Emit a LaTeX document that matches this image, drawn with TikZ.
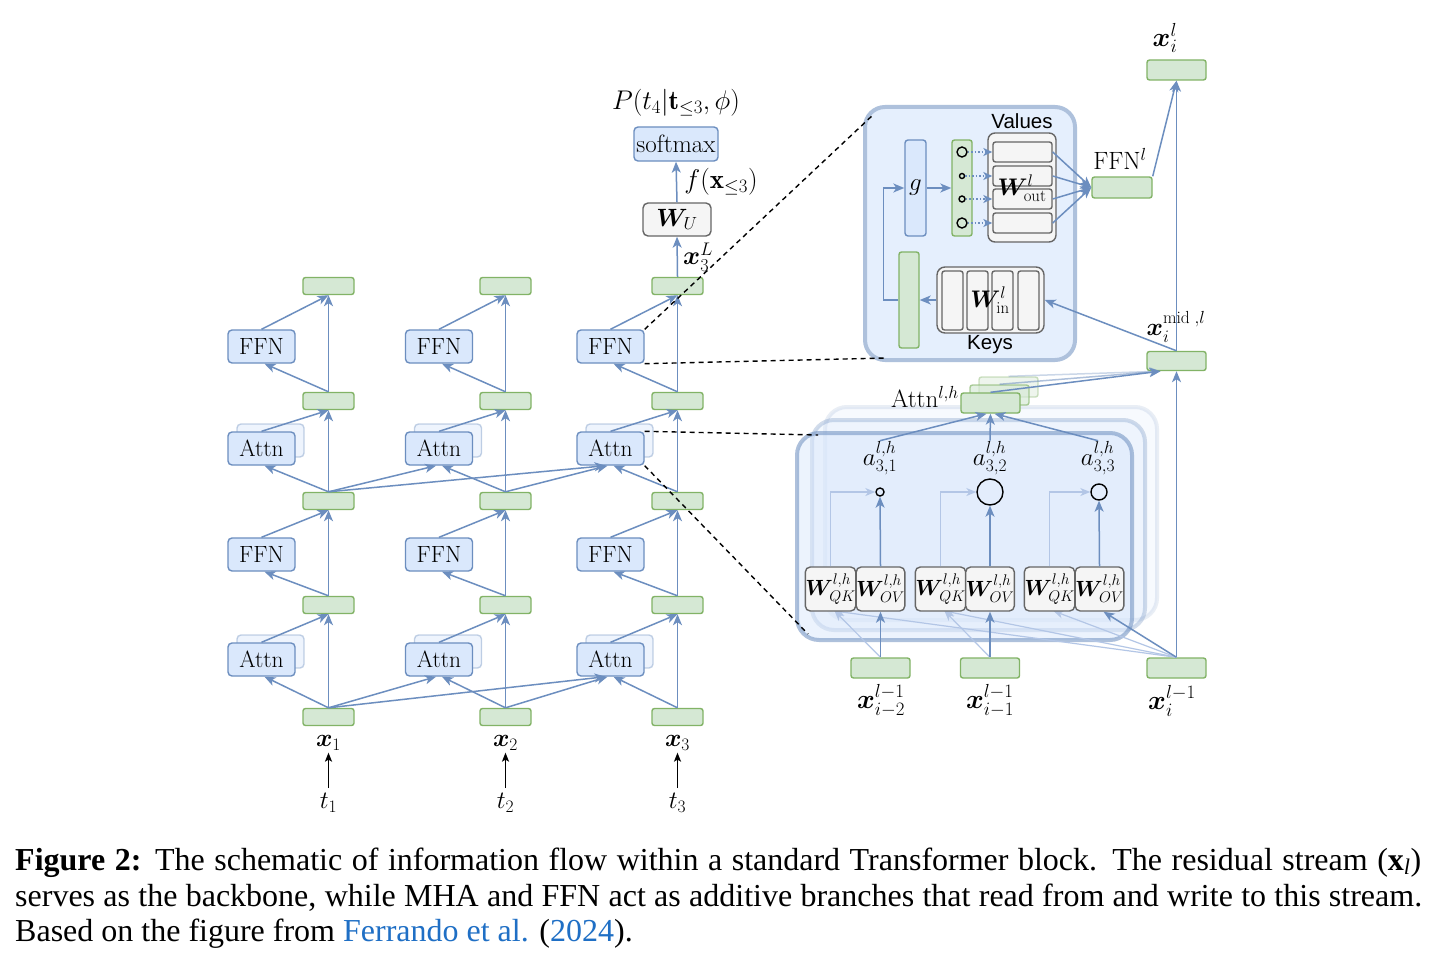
\RequirePackage{fix-cm}
\documentclass[tikz,border=0pt]{standalone}
\usepackage{amsmath,bm}
\usepackage{fontspec}
\usetikzlibrary{arrows.meta,calc}
\newfontfamily\capfont{Liberation Serif}
\newfontfamily\hsans{Liberation Sans}
\definecolor{bluD}{HTML}{6C8EBF}
\definecolor{bluF}{HTML}{DAE8FC}
\definecolor{grnD}{HTML}{82B366}
\definecolor{grnF}{HTML}{D5E8D4}
\definecolor{gryD}{HTML}{666666}
\definecolor{gryF}{HTML}{F5F5F5}
\definecolor{lnk}{HTML}{1F6FC5}
\definecolor{faint}{HTML}{B3C6E6}
\tikzset{
 grn/.style={draw=grnD, fill=grnF, line width=1.4pt, rounded corners=2.5pt, minimum width=51pt, minimum height=17pt, inner sep=0pt},
 grnw/.style={grn, minimum width=59pt, minimum height=20pt},
 blubox/.style={draw=bluD, fill=bluF, line width=1.4pt, rounded corners=4pt, minimum width=67pt, minimum height=33pt, inner sep=0pt, font=\fontsize{23.5}{23.5}\selectfont},
 shad/.style={blubox, draw opacity=0.4, fill opacity=0.45},
 grybox/.style={draw=gryD, fill=gryF, line width=1.4pt, rounded corners=5pt, inner sep=0pt},
 arr/.style={draw=bluD, line width=1.5pt, -{Stealth[length=11pt,width=9pt,inset=3pt]}},
 farr/.style={draw=faint, line width=1.2pt, -{Stealth[length=10pt,width=8pt,inset=3pt]}},
 karr/.style={draw=black, line width=1.4pt, -{Stealth[length=9pt,width=7pt,inset=2pt]}},
 dsh/.style={draw=black, line width=1.4pt, dash pattern=on 5pt off 4pt},
 lbl/.style={inner sep=0pt, font=\fontsize{25}{25}\selectfont},
 slbl/.style={inner sep=0pt, font=\hsans\fontsize{20.5}{20.5}\selectfont},
 circ/.style={circle, draw=black, line width=1.4pt, inner sep=0pt},
 cont/.style={draw=bluD, fill=bluF, line width=4pt, rounded corners=22pt, inner sep=0pt},
}
\begin{document}
\begin{tikzpicture}[x=1pt,y=-1pt]
\useasboundingbox (0,0) rectangle (1439,963);
\fill[white] (0,0) rectangle (1439,963);

% ---------- containers ----------
\node[cont, draw=bluD!55!white, fill=bluF!70!white, minimum width=210pt, minimum height=253pt, rounded corners=20pt] (ffnbox) at (970,233.5) {};
\node[cont, draw opacity=.15, fill opacity=.2, minimum width=332pt, minimum height=213pt] (attC) at (991,513.5) {};
\node[cont, draw opacity=.3, fill opacity=.3, minimum width=333pt, minimum height=210pt] (attB) at (978.5,525) {};
\node[cont, draw opacity=.55, fill opacity=.5, minimum width=335pt, minimum height=207pt] (attA) at (964.5,536.5) {};

% ---------- left: three token columns ----------
\foreach \j/\s/\b in {1/328.5/261.5,2/505.5/439,3/677.5/610.5}{
 \node[shad] (sa\j) at (\b+9,651.5) {};
 \node[shad] (sb\j) at (\b+9,440.5) {};
 \node[grn] (ga\j) at (\s,717) {};
 \node[grn] (gb\j) at (\s,605) {};
 \node[grn] (gc\j) at (\s,501) {};
 \node[grn] (gd\j) at (\s,401) {};
 \node[grn] (ge\j) at (\s,286) {};
 \node[blubox] (Aa\j) at (\b,659.5) {Attn};
 \node[blubox] (Fa\j) at (\b,554.5) {FFN};
 \node[blubox] (Ab\j) at (\b,448.5) {Attn};
 \node[blubox] (Fb\j) at (\b,346.5) {FFN};
 \draw[arr] (ga\j.north) -- (gb\j.south);
 \draw[arr] (gb\j.north) -- (gc\j.south);
 \draw[arr] (gc\j.north) -- (gd\j.south);
 \draw[arr] (gd\j.north) -- (ge\j.south);
 \draw[arr] (ga\j.north) -- ([xshift=3pt]Aa\j.south);
 \draw[arr] (Aa\j.north) -- (gb\j.south);
 \draw[arr] (gb\j.north) -- ([xshift=3pt]Fa\j.south);
 \draw[arr] (Fa\j.north) -- (gc\j.south);
 \draw[arr] (gc\j.north) -- ([xshift=3pt]Ab\j.south);
 \draw[arr] (Ab\j.north) -- (gd\j.south);
 \draw[arr] (gd\j.north) -- ([xshift=3pt]Fb\j.south);
 \draw[arr] (Fb\j.north) -- (ge\j.south);
 \node[lbl] (x\j) at (\s,743) {$\bm{x}_\j$};
 \node[lbl] (t\j) at (\s,803) {$t_\j$};
 \draw[karr, shorten <=5pt, shorten >=2pt] (t\j) -- (x\j);
}
% cross-token attention reads
\draw[arr] (ga1.north) -- ([xshift=-3pt]Aa2.south);
\draw[arr] (ga1.north) -- ([xshift=-5pt]Aa3.south);
\draw[arr] (ga2.north) -- ([xshift=-3pt]Aa3.south);
\draw[arr] (gc1.north) -- ([xshift=-3pt]Ab2.south);
\draw[arr] (gc1.north) -- ([xshift=-5pt]Ab3.south);
\draw[arr] (gc2.north) -- ([xshift=-3pt]Ab3.south);

% ---------- output head ----------
\node[grybox, minimum width=68pt, minimum height=33pt, font=\fontsize{25}{25}\selectfont] (WU) at (677,219.5) {$\bm{W}_U$};
\node[blubox, minimum width=84pt, minimum height=34pt, font=\fontsize{25}{25}\selectfont] (smx) at (676,144) {softmax};
\draw[arr] (ge3.north) -- (WU.south);
\draw[arr] (WU.north) -- (smx.south);
\node[lbl, font=\fontsize{27}{27}\selectfont] (P) at (676,103) {$P(t_4|\mathbf{t}_{\leq 3},\phi)$};
\node[lbl, font=\fontsize{27}{27}\selectfont] (fx) at (721,182) {$f(\mathbf{x}_{\leq 3})$};
\node[lbl, font=\fontsize{26}{26}\selectfont] (xL) at (698,257) {$\bm{x}_3^L$};

% ---------- FFN detail ----------
\node[blubox, minimum width=21pt, minimum height=96pt, rounded corners=3pt, font=\fontsize{25}{25}\selectfont] (gg) at (915.5,188) {$g$};
\node[grn, minimum width=20pt, minimum height=96pt] (act) at (962,188) {};
\node[circ, minimum size=10pt] (k1) at (962,152) {};
\node[circ, minimum size=5pt] (k2) at (962,176) {};
\node[circ, minimum size=6pt] (k3) at (962,199) {};
\node[circ, minimum size=10pt] (k4) at (962,223) {};
\node[grybox, minimum width=68pt, minimum height=109pt, rounded corners=7pt] (vals) at (1022,187.5) {};
\node[grybox, minimum width=59pt, minimum height=20pt, rounded corners=2.5pt] (v1) at (1022.5,152) {};
\node[grybox, minimum width=59pt, minimum height=20pt, rounded corners=2.5pt] (v2) at (1022.5,176) {};
\node[grybox, minimum width=59pt, minimum height=20pt, rounded corners=2.5pt] (v3) at (1022.5,199) {};
\node[grybox, minimum width=59pt, minimum height=20pt, rounded corners=2.5pt] (v4) at (1022.5,223) {};
\node[lbl, font=\fontsize{24}{24}\selectfont] (wout) at (1022,188) {$\bm{W}^{l}_{\mathrm{out}}$};
\node[slbl] (valt) at (1022,121) {Values};
\foreach \i in {1,2,3,4}{
 \draw[arr, dotted, line width=1.3pt, -{Stealth[length=9pt,width=8pt,inset=2.5pt]}] (k\i) -- (v\i.west);
}
\node[grn, minimum width=60pt, minimum height=21pt] (fl) at (1122,187.5) {};
\node[lbl] (flt) at (1120,159) {FFN$^l$};
\foreach \i in {1,2,3,4}{
 \draw[arr] (v\i.east) -- (fl.west);
}
\draw[arr] (gg.east) -- (act.west);
\node[grn, minimum width=20pt, minimum height=96pt] (kg) at (909,300) {};
\node[grybox, minimum width=107pt, minimum height=66pt, rounded corners=8pt] (keys) at (990.5,300) {};
\foreach \i/\xx in {1/952.5,2/977.5,3/1002.5,4/1028.5}{
 \node[grybox, minimum width=21pt, minimum height=59pt, rounded corners=2.5pt] (kc\i) at (\xx,300.5) {};
}
\node[lbl, font=\fontsize{24}{24}\selectfont] (win) at (990,300) {$\bm{W}^{l}_{\mathrm{in}}$};
\node[slbl] (keyt) at (990,345) {Keys};
\draw[arr] (keys.west) -- (kg.east);
\draw[arr] (kg.west) -- ++(-15,0) |- (gg.west);

% residual for position i
\node[grnw] (xl) at (1176.5,70) {};
\node[grnw, minimum height=19pt] (xm) at (1176.5,361) {};
\node[lbl, font=\fontsize{27}{27}\selectfont] (xlt) at (1165,38) {$\bm{x}_i^{l}$};
\node[lbl] (xmt) at (1176,327) {$\bm{x}_i^{\mathrm{mid}\;,l}$};
\draw[arr] (xm.north) -- (xl.south);
\draw[arr] (fl.north east) -- (xl.south);
\draw[arr] (xm.north) -- (keys.east);

% ---------- attention detail ----------
\node[grnw, opacity=.4] (ah3) at (1008.5,387) {};
\node[grnw, opacity=.65] (ah2) at (999.5,395) {};
\node[grnw] (ah1) at (990.5,403) {};
\draw[arr, draw opacity=.35] (ah3.north) -- ([xshift=-16pt]xm.south);
\draw[arr, draw opacity=.55] (ah2.north) -- ([xshift=-16pt]xm.south);
\draw[arr] (ah1.north) -- ([xshift=-16pt]xm.south);
\node[lbl] (aht) at (925,397) {Attn$^{l,h}$};

\node[lbl] (a1) at (880,458) {$a^{l,h}_{3,1}$};
\node[lbl] (a2) at (990,458) {$a^{l,h}_{3,2}$};
\node[lbl] (a3) at (1098,458) {$a^{l,h}_{3,3}$};
\draw[arr] (a1.north) -- ([xshift=-4pt]ah1.south);
\draw[arr] (a2.north) -- (ah1.south);
\draw[arr] (a3.north) -- ([xshift=4pt]ah1.south);
\node[circ, minimum size=8pt] (c1) at (880,492) {};
\node[circ, minimum size=26pt] (c2) at (990,492) {};
\node[circ, minimum size=16pt] (c3) at (1099,492) {};

\node[grnw] (i1) at (880.5,668) {};
\node[grnw] (i2) at (990,668) {};
\node[grnw] (i3) at (1176.5,668) {};
\draw[farr] (i1.north) -- ([xshift=4pt]830.5,611);
\draw[farr] (i2.north) -- ([xshift=4pt]940.5,611);
\draw[farr] (i3.north) -- ([xshift=4pt]830.5,611);
\draw[farr] (i3.north) -- ([xshift=4pt]940.5,611);
\draw[farr] (i3.north) -- ([xshift=4pt]1049.5,611);

\foreach \i/\q/\o in {1/830.5/880.5,2/940.5/990,3/1049.5/1099.5}{
 \node[grybox, minimum width=45pt, minimum height=44pt, font=\fontsize{22}{22}\selectfont] (wq\i) at (\q,589) {$\bm{W}^{l,h}_{QK}$};
 \node[grybox, minimum width=45pt, minimum height=44pt, font=\fontsize{22}{22}\selectfont] (wo\i) at (\o,589) {$\bm{W}^{l,h}_{OV}$};
 \draw[arr] (wo\i.north) -- (c\i.south);
 \draw[farr] (wq\i.north) |- (c\i.west);
}
\draw[arr] (i1.north) -- (wo1.south);
\draw[arr] (i2.north) -- (wo2.south);
\draw[arr] (i3.north) -- ([xshift=4pt]wo3.south);
\draw[arr] (i3.north) -- (xm.south);
\node[lbl, font=\fontsize{27}{27}\selectfont] (i1t) at (881,701) {$\bm{x}^{l-1}_{i-2}$};
\node[lbl, font=\fontsize{27}{27}\selectfont] (i2t) at (990,701) {$\bm{x}^{l-1}_{i-1}$};
\node[lbl, font=\fontsize{27}{27}\selectfont] (i3t) at (1172,701) {$\bm{x}^{l-1}_{i}$};

% ---------- dashed zoom guides ----------
\coordinate (dz1) at (874,114);
\coordinate (dz2) at (887,358);
\coordinate (dz3) at (818,435);
\coordinate (dz4) at (808,634);
\draw[dsh] (Fb3.north east) -- (dz1);
\draw[dsh] (Fb3.south east) -- (dz2);
\draw[dsh] (Ab3.north east) -- (dz3);
\draw[dsh] (Ab3.south east) -- (dz4);

% ---------- caption ----------
\node[anchor=base west, inner sep=0pt] (cap1) at (15,870) {\capfont\fontsize{32}{32}\selectfont\makebox[1406pt][s]{\textbf{Figure 2:} The schematic of information flow within a standard Transformer block. The residual stream (\textbf{x}\textsubscript{\textit{l}})}};
\node[anchor=base west, inner sep=0pt] (cap2) at (15,906) {\capfont\fontsize{32}{32}\selectfont\makebox[1407pt][s]{serves as the backbone, while MHA and FFN act as additive branches that read from and write to this stream.}};
\node[anchor=base west, inner sep=0pt] (cap3) at (15,941) {\capfont\fontsize{32}{32}\selectfont Based on the figure from \textcolor{lnk}{Ferrando et al.} (\textcolor{lnk}{2024}).};
\end{tikzpicture}
\end{document}
